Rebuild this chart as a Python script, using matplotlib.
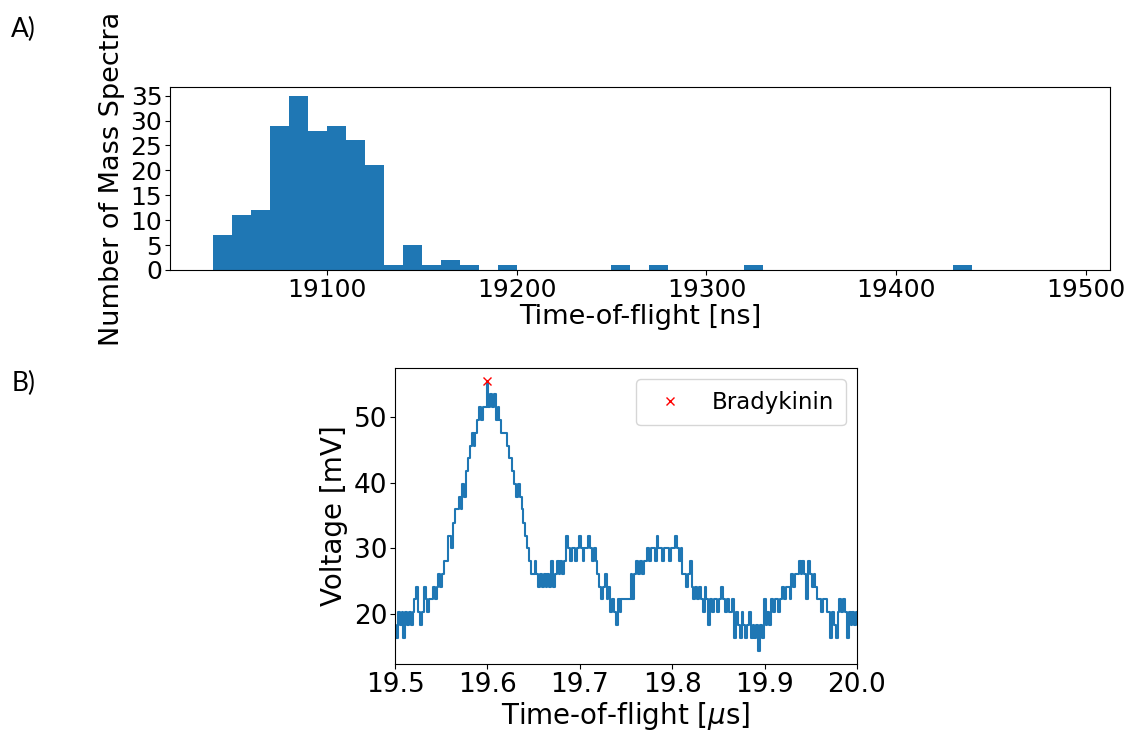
"""
Two-panel figure: (A) histogram of the Bradykinin peak time-of-flight over
all mass spectra, (B) one example spectrum around the peak.

Output: out.png
"""

import numpy as np
import matplotlib.pyplot as plt

# --- A) histogram of peak positions, 10 ns bins ------------------------------
BIN_START_NS = 19040
BIN_WIDTH_NS = 10
SPECTRA_PER_BIN = [
    7, 11, 12, 29, 35, 28, 29, 26, 21, 1,   # 19040 - 19130
    5, 1, 2, 1, 0, 1, 0, 0, 0, 0,           # 19140 - 19230
    0, 1, 0, 1, 0, 0, 0, 0, 1, 0,           # 19240 - 19330
    0, 0, 0, 0, 0, 0, 0, 0, 0, 1,           # 19340 - 19430
    0, 0, 0, 0, 0,                          # 19440 - 19480
]

# --- B) example spectrum, one sample every 2 ns from 19.5 us ------------------
SAMPLE_START_US = 19.5
SAMPLE_STEP_US = 0.002
VOLTAGE_MV = [
    18.3, 16.3, 20.2, 18.3, 20.2, 16.3, 20.2, 18.3, 20.2, 18.3,
    20.2, 22.2, 24.1, 20.2, 18.3, 20.2, 24.1, 22.2, 20.2, 22.2,
    22.2, 24.1, 22.2, 24.1, 26.1, 24.1, 26.1, 28.0, 28.0, 31.9,
    31.9, 30.0, 33.9, 35.9, 35.9, 37.8, 35.9, 39.8, 37.8, 41.7,
    43.7, 45.6, 47.6, 45.6, 47.6, 49.5, 51.5, 49.5, 51.5, 51.5,
    55.4, 51.5, 53.5, 51.5, 53.5, 49.5, 51.5, 49.5, 47.6, 47.6,
    47.6, 45.6, 43.7, 43.7, 41.7, 39.8, 37.8, 39.8, 37.8, 35.9,
    33.9, 31.9, 30.0, 28.0, 26.1, 26.1, 28.0, 26.1, 24.1, 26.1,
    24.1, 26.1, 24.1,
    26.1, 24.1, 28.0, 24.1, 26.1, 28.0, 26.1, 28.0, 26.1, 28.0,
    31.9, 30.0, 28.0, 30.0, 30.0, 28.0, 30.0, 31.9, 30.0, 28.0,
    30.0, 30.0, 31.9, 30.0, 28.0, 30.0, 28.0, 26.1, 24.1, 22.2,
    24.1, 26.1, 22.2, 24.1, 20.2, 22.2, 20.2, 18.3, 22.2, 20.2,
    22.2, 22.2, 22.2, 22.2, 22.2, 26.1, 22.2, 26.1, 28.0, 26.1,
    28.0, 26.1, 28.0, 28.0, 30.0, 28.0, 30.0, 30.0, 28.0, 31.9,
    30.0, 30.0, 28.0, 30.0, 30.0, 30.0, 28.0, 30.0, 30.0, 31.9,
    30.0, 28.0, 30.0, 26.1, 26.1, 24.1, 26.1, 28.0, 24.1, 22.2,
    24.1, 22.2, 24.1, 22.2, 20.2,
    24.1, 22.2, 18.3, 22.2, 20.2, 22.2, 22.2, 20.2, 22.2, 24.1,
    22.2, 20.2, 22.2, 20.2, 20.2, 22.2, 16.3, 20.2, 18.3, 16.3,
    20.2, 18.3, 16.3, 18.3, 20.2, 16.3, 18.3, 16.3, 18.3, 14.4,
    18.3, 16.3, 22.2, 18.3, 20.2, 18.3, 22.2, 20.2, 22.2, 22.2,
    20.2, 22.2, 24.1, 22.2, 24.1, 24.1, 22.2, 26.1, 24.1, 26.1,
    26.1, 28.0, 26.1, 28.0, 26.1, 22.2, 28.0, 26.1, 24.1, 26.1,
    24.1, 22.2, 22.2, 20.2, 22.2, 22.2, 20.2, 20.2, 16.3, 20.2,
    18.3, 16.3, 20.2, 22.2, 20.2, 22.2, 20.2, 16.3, 20.2, 18.3,
    20.2, 18.3, 20.2,
]
PEAK_LABEL = "Bradykinin"


def main() -> None:
    fig = plt.figure(figsize=(11.3, 7.35), dpi=100)

    # --- panel A
    counts = np.array(SPECTRA_PER_BIN)
    edges = BIN_START_NS + BIN_WIDTH_NS * np.arange(len(counts) + 1)
    ax_a = fig.add_axes([0.1504, 0.6327, 0.8319, 0.2490])
    ax_a.hist(edges[:-1], bins=edges, weights=counts, color="#1f77b4")
    ax_a.set_xlabel("Time-of-flight [ns]", fontsize=19.5, labelpad=2)
    ax_a.set_ylabel("Number of Mass Spectra", fontsize=19.5, labelpad=4)
    ax_a.set_yticks(range(0, 36, 5))
    ax_a.tick_params(labelsize=18, pad=2)

    # --- panel B (digitiser output, so draw it as steps)
    volts = np.array(VOLTAGE_MV)
    t_us = SAMPLE_START_US + SAMPLE_STEP_US * np.arange(len(volts))
    peak = np.argmax(volts)
    ax_b = fig.add_axes([0.3496, 0.0966, 0.4088, 0.4027])
    ax_b.plot(t_us, volts, color="#1f77b4", linewidth=1.5,
              drawstyle="steps-mid")
    ax_b.plot(t_us[peak], volts[peak], "x", color="red", markersize=5.5,
              label=PEAK_LABEL)
    ax_b.set_xlim(19.5, 20.0)
    ax_b.set_xticks([19.5, 19.6, 19.7, 19.8, 19.9, 20.0])
    ax_b.set_yticks([20, 30, 40, 50])
    ax_b.set_xlabel(r"Time-of-flight [$\mu$s]", fontsize=20, labelpad=2)
    ax_b.set_ylabel("Voltage [mV]", fontsize=20, labelpad=4)
    ax_b.tick_params(labelsize=19, pad=2)
    ax_b.legend(loc="upper right", fontsize=16.5, borderpad=0.5)

    # panel letters
    fig.text(0.010, 0.96, "A)", fontsize=19, family="Lato", va="center")
    fig.text(0.010, 0.478, "B)", fontsize=19, family="Lato", va="center")

    fig.savefig("out.png", dpi=100)
    plt.close(fig)


if __name__ == "__main__":
    main()
